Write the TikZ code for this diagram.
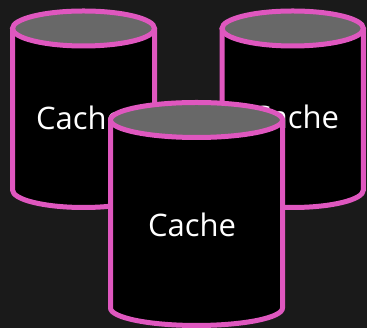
\documentclass[tikz,border=0pt]{standalone}
\usepackage{fontspec}
\setmainfont{Open Sans}
\definecolor{bgc}{HTML}{1A1A1A}
\definecolor{pinkc}{HTML}{DF57BF}
\definecolor{topc}{HTML}{686868}
\tikzset{
  cylbody/.style={fill=black, draw=pinkc, line width=5pt, line join=round},
  cyltop/.style={fill=topc, draw=pinkc, line width=5pt},
  cyllabel/.style={text=white, font=\fontsize{31}{36}\selectfont, anchor=base, inner sep=0pt}
}
% #1 cx, #2 rx, #3 top center Y, #4 side bottom Y, #5 ry
\newcommand{\mycyl}[5]{%
  \path[cylbody] (#1-#2,#3) -- (#1-#2,#4) arc[start angle=180, end angle=360, x radius=#2pt, y radius=#5pt] -- (#1+#2,#3) -- cycle;
  \path[cyltop] (#1,#3) ellipse[x radius=#2pt, y radius=#5pt];
}
\begin{document}
\begin{tikzpicture}[x=1pt,y=1pt]
  \path[fill=bgc] (0,0) rectangle (367,328);
  \useasboundingbox (0,0) rectangle (367,328);
  % left cylinder
  \mycyl{83.5}{71}{299.5}{138}{17.5}
  \node[cyllabel] (leftlabel) at (80,198) {Cache};
  % right cylinder
  \mycyl{292.7}{70.7}{299.5}{138}{17.5}
  \node[cyllabel] (rightlabel) at (295,199) {Cache};
  % middle cylinder
  \mycyl{196.5}{86}{208}{20}{17.5}
  \node[cyllabel] (midlabel) at (192,91) {Cache};
\end{tikzpicture}
\end{document}
